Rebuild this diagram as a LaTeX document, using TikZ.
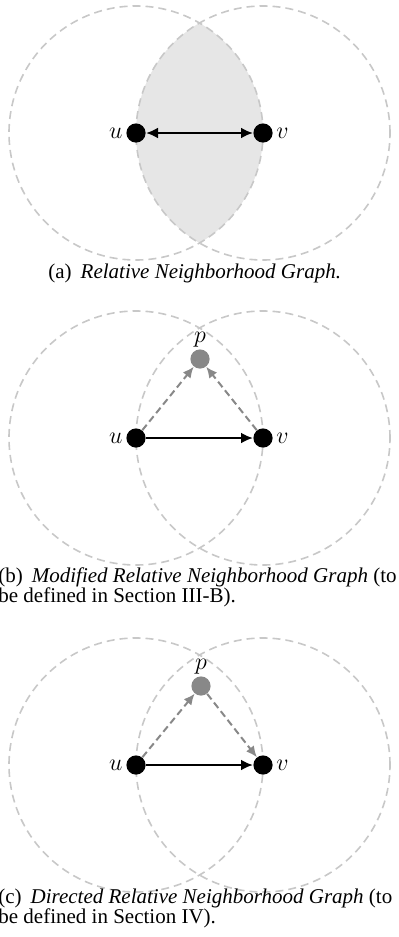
\documentclass[tikz,border=0pt]{standalone}
\usepackage{fontspec}
\setmainfont{Liberation Serif}
\usetikzlibrary{arrows.meta}
\definecolor{circgray}{HTML}{C8C8C8}
\definecolor{lensgray}{HTML}{E6E6E6}
\definecolor{pgray}{HTML}{888888}
\begin{document}
\begin{tikzpicture}[x=0.5pt,y=-0.5pt,
  dot/.style={circle,fill=black,inner sep=0pt,minimum size=9.6pt},
  pdot/.style={circle,fill=pgray,inner sep=0pt,minimum size=9.6pt},
  circ/.style={circgray,line width=0.8pt,dash pattern=on 4pt off 2.5pt},
  mainedge/.style={line width=1.4pt,-{Latex[length=6pt,width=5.5pt]}},
  dashedge/.style={pgray,line width=1pt,dash pattern=on 3.5pt off 2pt,-{Latex[length=5.5pt,width=5pt]}},
  lab/.style={font=\fontsize{11.5pt}{11.5pt}\selectfont,inner sep=1.5pt},
  captxt/.style={font=\fontsize{10.5pt}{10pt}\selectfont,anchor=base west,inner sep=0pt}]
\useasboundingbox (0,0) rectangle (399,937);
% ---------- (a) ----------
\coordinate (ua) at (136,133);
\coordinate (va) at (263,133);
\begin{scope}
  \clip (ua) circle[radius=63.5pt];
  \fill[lensgray] (va) circle[radius=63.5pt];
\end{scope}
\draw[circ] (ua) circle[radius=63.5pt];
\draw[circ] (va) circle[radius=63.5pt];
\node[dot,label={[lab]left:$u$}] (nua) at (ua) {};
\node[dot,label={[lab]right:$v$}] (nva) at (va) {};
\draw[mainedge,{Latex[length=6pt,width=5.5pt]}-{Latex[length=6pt,width=5.5pt]}] (nua) -- (nva);
\node[captxt] (capa) at (48,278) {(a)\hspace{4.5pt}\textit{Relative Neighborhood Graph.}};
% ---------- (b) ----------
\coordinate (ub) at (136,438);
\coordinate (vb) at (263,438);
\draw[circ] (ub) circle[radius=63.5pt];
\draw[circ] (vb) circle[radius=63.5pt];
\node[dot,label={[lab]left:$u$}] (nub) at (ub) {};
\node[dot,label={[lab]right:$v$}] (nvb) at (vb) {};
\node[pdot,label={[lab,inner sep=0.5pt]above:$p$}] (npb) at (200,359) {};
\draw[mainedge] (nub) -- (nvb);
\draw[dashedge] (nub) -- (npb);
\draw[dashedge] (nvb) -- (npb);
\node[captxt] (capb1) at (-2,582) {(b)\hspace{4.5pt}\textit{Modified Relative Neighborhood Graph} (to};
\node[captxt] (capb2) at (-2,602) {be defined in Section III-B).};
% ---------- (c) ----------
\coordinate (uc) at (136,765);
\coordinate (vc) at (263,765);
\draw[circ] (uc) circle[radius=63.5pt];
\draw[circ] (vc) circle[radius=63.5pt];
\node[dot,label={[lab]left:$u$}] (nuc) at (uc) {};
\node[dot,label={[lab]right:$v$}] (nvc) at (vc) {};
\node[pdot,label={[lab,inner sep=0.5pt]above:$p$}] (npc) at (201,686) {};
\draw[mainedge] (nuc) -- (nvc);
\draw[dashedge] (nuc) -- (npc);
\draw[dashedge] (npc) -- (nvc);
\node[captxt] (capc1) at (-2,903) {(c)\hspace{4.5pt}\textit{Directed Relative Neighborhood Graph} (to};
\node[captxt] (capc2) at (-2,923) {be defined in Section IV).};
\end{tikzpicture}
\end{document}
